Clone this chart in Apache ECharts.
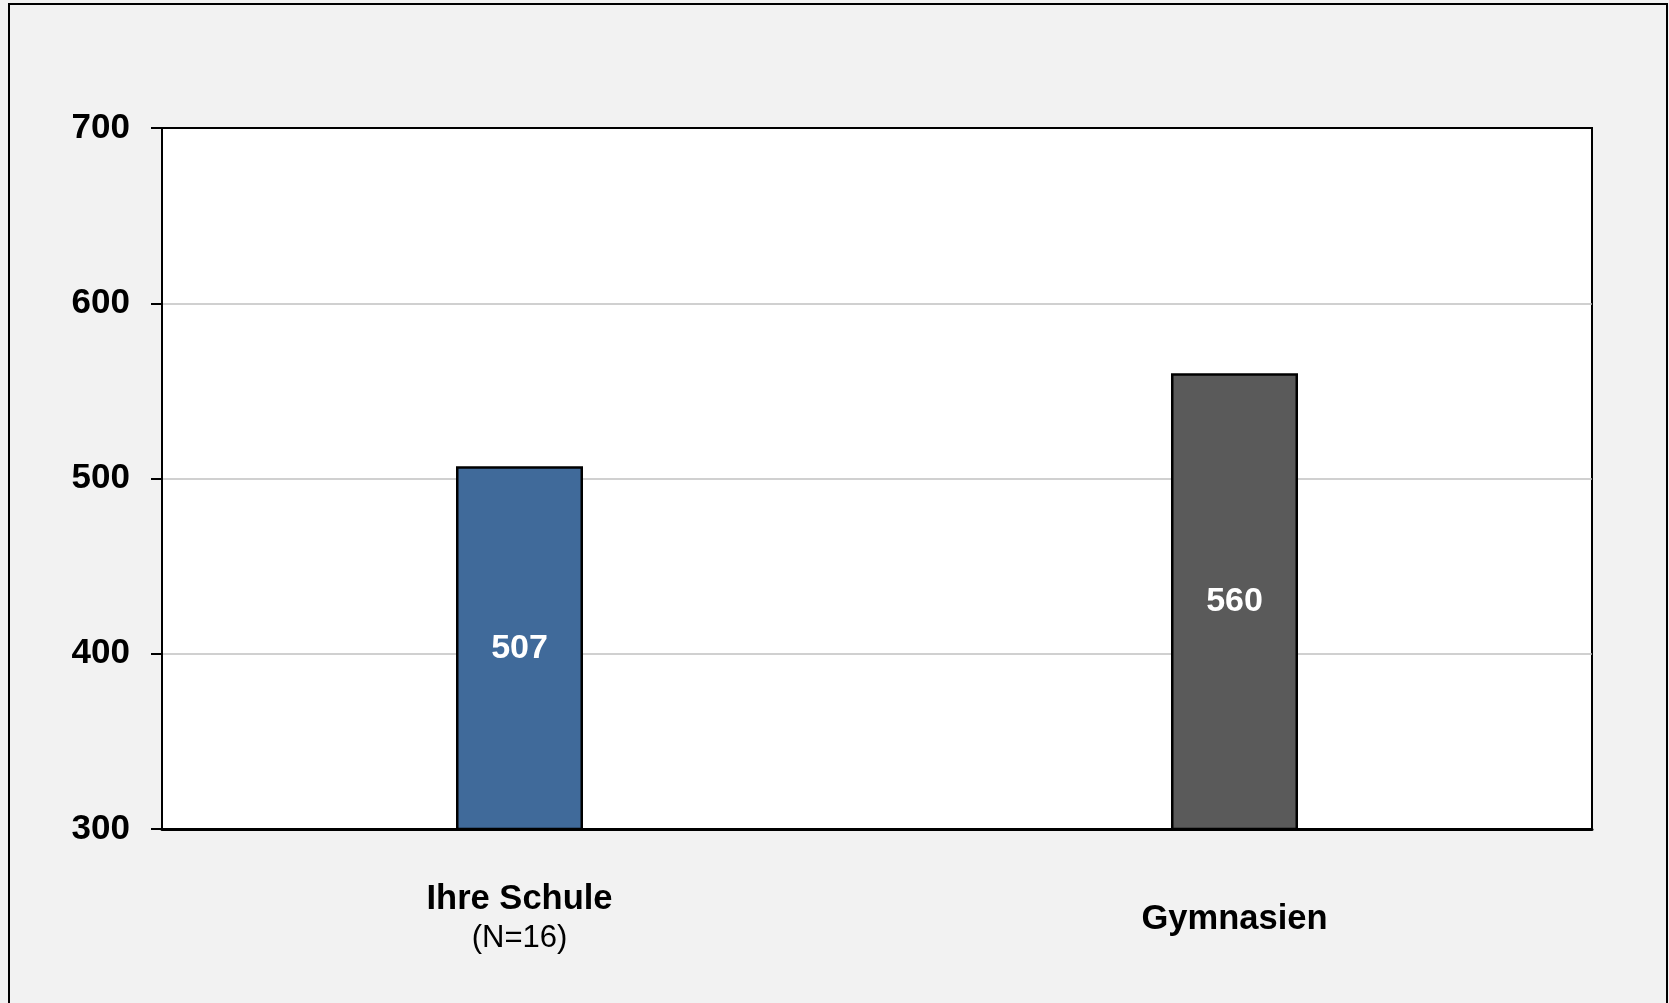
<!DOCTYPE html>
<html>
<head>
<meta charset="utf-8">
<script src="https://cdn.jsdelivr.net/npm/echarts@6/dist/echarts.min.js"></script>
<style>
    html, body { margin: 0; padding: 0; background: #F2F2F2; }
    #chart { width: 1669px; height: 1003px; }
</style>
</head>
<body>
<div id="chart"></div>
<script>
// Daten
const kategorien = ['Ihre Schule', 'Gymnasien'];
const untertitel = ['(N=16)', ''];
const werte = [507, 560];
const farben = ['#406A9A', '#5A5A5A'];
const yTicks = [300, 400, 500, 600, 700];

const chart = echarts.init(document.getElementById('chart'));

chart.setOption({
    backgroundColor: '#F2F2F2',
    animation: false,
    textStyle: { fontFamily: 'Liberation Sans, Arial, sans-serif' },
    graphic: [{
        type: 'rect',
        shape: { x: 9, y: 4, width: 1658, height: 1010 },
        style: { fill: null, stroke: '#000', lineWidth: 2 },
        silent: true
    }],
    grid: {
        left: 162, top: 128, right: 77, bottom: 174,
        show: true,
        backgroundColor: '#FFFFFF',
        borderColor: '#000',
        borderWidth: 2
    },
    xAxis: [{
        type: 'category',
        data: kategorien,
        axisLine: { lineStyle: { color: '#000', width: 3 } },
        axisTick: { show: false },
        axisLabel: {
            margin: 90,
            verticalAlign: 'middle',
            color: '#000',
            formatter: function(val, idx) {
                const sub = untertitel[idx];
                return sub ? '{t|' + val + '}\n{s|' + sub + '}' : '{t|' + val + '}';
            },
            rich: {
                t: { fontSize: 34.5, fontWeight: 'bold', color: '#000', lineHeight: 39 },
                s: { fontSize: 31, color: '#000', lineHeight: 39 }
            }
        }
    }, {
        // obere Rahmenlinie
        type: 'category',
        position: 'top',
        data: kategorien,
        axisLine: { show: true, lineStyle: { color: '#000', width: 2 } },
        axisTick: { show: false },
        axisLabel: { show: false }
    }],
    yAxis: {
        type: 'value',
        min: yTicks[0],
        max: yTicks[yTicks.length - 1],
        interval: 100,
        axisLine: { show: true, lineStyle: { color: '#000', width: 2 } },
        axisTick: { show: true, length: 11, lineStyle: { color: '#000', width: 2 } },
        axisLabel: {
            margin: 32,
            color: '#000',
            fontSize: 35,
            fontWeight: 'bold'
        },
        splitLine: { lineStyle: { color: '#C0C0C0', width: 1.5 } }
    },
    series: [{
        type: 'bar',
        barWidth: 127,
        data: werte.map((v, i) => ({
            value: v,
            itemStyle: { color: farben[i] }
        })),
        itemStyle: { borderColor: '#000', borderWidth: 2.5 },
        label: {
            show: true,
            position: 'inside',
            color: '#FFFFFF',
            fontSize: 34,
            fontWeight: 'bold'
        }
    }]
});
</script>
</body>
</html>
